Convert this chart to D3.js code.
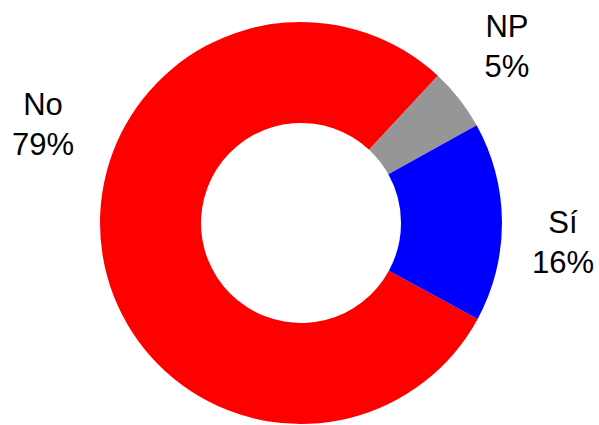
<!DOCTYPE html>
<html><head><meta charset="utf-8">
<script src="https://cdn.jsdelivr.net/npm/d3@7"></script>
<style>body{margin:0;background:#fff}svg{display:block}</style>
</head><body>
<svg id="c" width="599" height="425"></svg>
<script>
const categories = ["No", "NP", "Sí"];
const values = [79, 5, 16];
const labels = ["79%", "5%", "16%"];
const colors = ["#ff0000", "#969696", "#0000ff"];
const labelPos = [[43, 115], [507, 37], [563, 233]];

const svg = d3.select("#c");
const cx = 301, cy = 223, rOuter = 201, rInner = 100;
const startDeg = 118.5;
const pie = d3.pie().sort(null).value(d => d)
  .startAngle(startDeg * Math.PI / 180)
  .endAngle((startDeg + 360) * Math.PI / 180);
const arc = d3.arc().innerRadius(rInner).outerRadius(rOuter);
const g = svg.append("g").attr("transform", `translate(${cx},${cy})`);
g.selectAll("path").data(pie(values)).join("path")
  .attr("d", arc)
  .attr("fill", (d, i) => colors[i]);

const t = svg.selectAll("text.lbl").data(categories).join("text")
  .attr("class", "lbl")
  .attr("text-anchor", "middle")
  .attr("font-family", "Liberation Sans, Arial, sans-serif")
  .attr("font-size", 31)
  .attr("fill", "#000");
t.each(function(d, i) {
  const s = d3.select(this);
  s.append("tspan").attr("x", labelPos[i][0]).attr("y", labelPos[i][1]).text(d);
  s.append("tspan").attr("x", labelPos[i][0]).attr("y", labelPos[i][1] + 40).text(labels[i]);
});
</script>
</body></html>
